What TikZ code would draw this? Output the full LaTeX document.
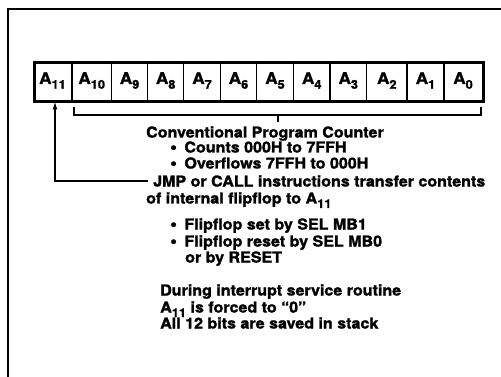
\documentclass[tikz,border=0pt]{standalone}
\usepackage{fontspec}
\setmainfont{TeX Gyre Heros}[FakeStretch=1.07, BoldFeatures={FakeBold=1.6}]
\usetikzlibrary{arrows.meta}
\newcommand{\Asub}[1]{A\raisebox{-0.3em}{\fontsize{12}{12}\selectfont #1}}
\newcommand{\bul}{\raisebox{-0.6pt}{\scalebox{1.2}{•}}}
\tikzset{
  frame/.style={line width=2pt},
  regbox/.style={line width=2.8pt},
  divider/.style={line width=1.3pt},
  cell/.style={font=\fontsize{16}{16}\selectfont\bfseries, inner sep=0pt},
  txt/.style={anchor=base west, inner sep=0pt, font=\fontsize{15}{15}\selectfont\bfseries},
  conn/.style={line width=1.3pt},
}
\begin{document}
\begin{tikzpicture}[x=1pt,y=-1pt]
\useasboundingbox (0,0) rectangle (501,377);
% frame (left and top edges)
\coordinate (fb) at (8,377);
\coordinate (ftl) at (8,9);
\coordinate (ftr) at (501,9);
\draw[frame] (fb) -- (ftl) -- (ftr);
% register
\node[draw, regbox, minimum width=449pt, minimum height=39pt, inner sep=0pt, anchor=north west] (reg) at (33,61) {};
\foreach \x in {72,111.5,147.7,183.8,220.2,256.7,293.3,330,366.7,407,444}{
  \draw[divider] (\x,61) -- (\x,100);
}
\node[cell] (c11) at (52.5,80.5) {\Asub{11}};
\node[cell] (c10) at (91.7,80.5) {\Asub{10}};
\node[cell] (c9) at (129.6,80.5) {\Asub{9}};
\node[cell] (c8) at (165.7,80.5) {\Asub{8}};
\node[cell] (c7) at (202,80.5) {\Asub{7}};
\node[cell] (c6) at (238.5,80.5) {\Asub{6}};
\node[cell] (c5) at (275,80.5) {\Asub{5}};
\node[cell] (c4) at (311.7,80.5) {\Asub{4}};
\node[cell] (c3) at (348.3,80.5) {\Asub{3}};
\node[cell] (c2) at (386.8,80.5) {\Asub{2}};
\node[cell] (c1) at (425.5,80.5) {\Asub{1}};
\node[cell] (c0) at (463,80.5) {\Asub{0}};
% bracket
\coordinate (bl) at (74,107);
\coordinate (br) at (481,107);
\coordinate (bm) at (278,115);
\draw[conn] (bl) |- (bm) -| (br);
\draw[conn] (bm) -- ++(0,7);
% texts
\node[txt] (t1) at (146,137.5) {Conventional Program Counter};
\node[txt] (t2) at (170,152.5) {\bul\hspace{0.5em}Counts 000H to 7FFH};
\node[txt] (t3) at (170,168.5) {\bul\hspace{0.5em}Overflows 7FFH to 000H};
\node[txt] (t4) at (153,186.5) {JMP or CALL instructions transfer contents};
\node[txt] (t5) at (146,203.5) {of internal flipflop to \Asub{11}};
\node[txt] (t6) at (170,229.5) {\bul\hspace{0.5em}Flipflop set by SEL MB1};
\node[txt] (t7) at (170,246.5) {\bul\hspace{0.5em}Flipflop reset by SEL MB0};
\node[txt] (t8) at (185,262.5) {or by RESET};
\node[txt] (t9) at (160,295.5) {During interrupt service routine};
\node[txt] (t10) at (160,312.5) {\Asub{11} is forced to “0”};
\node[txt] (t11) at (160,328.5) {All 12 bits are saved in stack};
% arrow from JMP text to A11
\coordinate (corner) at (55,181);
\coordinate (tip) at (55,101.5);
\draw[conn, -{Latex[length=8pt,width=5pt]}] (t4.west |- corner) ++(-5,0) -- (corner) -- (tip);
\end{tikzpicture}
\end{document}
